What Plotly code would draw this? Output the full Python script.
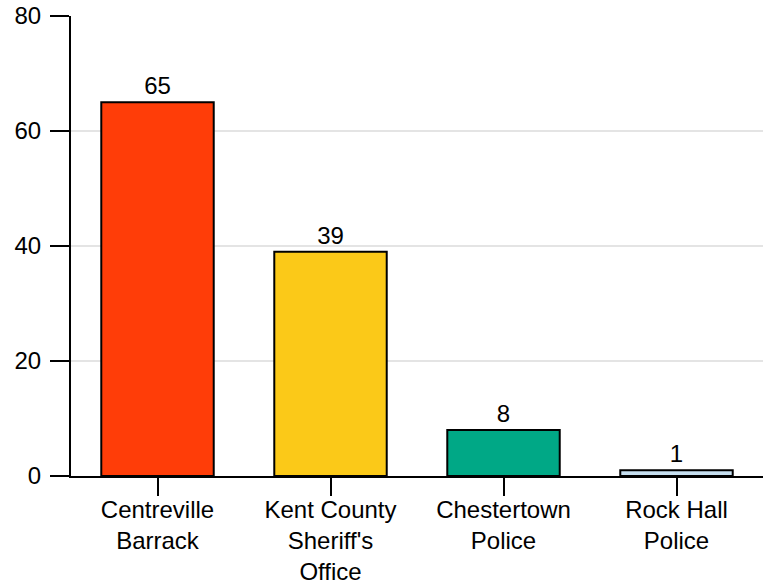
import plotly.graph_objects as go

categories = ["Centreville<br>Barrack", "Kent County<br>Sheriff's<br>Office", "Chestertown<br>Police", "Rock Hall<br>Police"]
values = [65, 39, 8, 1]
colors = ["#FF3D08", "#FBC918", "#00A886", "#C6DFF0"]
y_ticks = [0, 20, 40, 60, 80]

FONT = "Liberation Sans, Arial, sans-serif"
FS = 24

fig = go.Figure(go.Bar(
    x=categories,
    y=values,
    marker=dict(color=colors, line=dict(color="black", width=2)),
    text=[str(v) for v in values],
    textposition="outside",
    textfont=dict(size=FS, color="black", family=FONT),
    cliponaxis=False,
))

fig.update_layout(
    width=767, height=585,
    margin=dict(l=71, r=4, t=16, b=109),
    paper_bgcolor="white", plot_bgcolor="white",
    bargap=0.35,
    showlegend=False,
    font=dict(family=FONT, size=FS, color="black"),
)
fig.update_xaxes(
    showline=True, linecolor="black", linewidth=2,
    ticks="outside", ticklen=18, tickwidth=2, tickcolor="black",
    showgrid=False, tickfont=dict(size=FS), automargin=False,
    ticklabelstandoff=-7,
)
fig.update_yaxes(
    range=[0, 80], tickvals=y_ticks,
    showline=True, linecolor="black", linewidth=2,
    ticks="outside", ticklen=19, tickwidth=2, tickcolor="black",
    showgrid=True, gridcolor="#e4e4e4", gridwidth=1.5,
    zeroline=False, tickfont=dict(size=FS), automargin=False,
    ticklabelstandoff=4,
)

fig.write_html(
    "out.html",
    config={"displayModeBar": False},
    post_script="document.body.style.margin='0px';document.body.style.overflow='hidden';",
)
